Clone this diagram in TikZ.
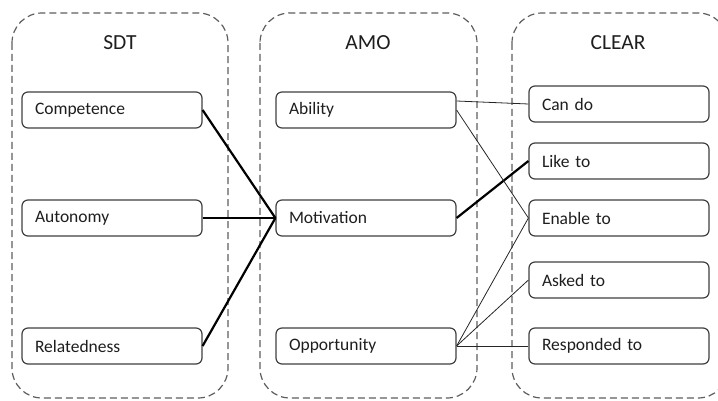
\documentclass[tikz,border=0pt]{standalone}
\usepackage{fontspec}
\setmainfont{Carlito}
\definecolor{boxline}{HTML}{404040}
\definecolor{groupline}{HTML}{5E5E5E}
\definecolor{inktext}{HTML}{1E1E1E}

\begin{document}
\begin{tikzpicture}[x=1pt,y=-1pt]
      \tikzstyle{group}=[draw=groupline, line width=1.2pt, dash pattern=on 7pt off 4pt, rounded corners=30pt]
      \tikzstyle{title}=[font=\fontsize{21.5}{24}\selectfont, text=inktext]
      \tikzstyle{item}=[draw=boxline, line width=1.2pt, rounded corners=6pt, fill=white,
        minimum height=36pt, text width=154pt, inner xsep=13pt, align=left,
        font=\fontsize{17.5}{20}\selectfont, text=inktext]
      \tikzstyle{strong}=[line width=2.2pt, black]
      \tikzstyle{weak}=[line width=0.8pt, black!85]
      \clip (0,0) rectangle (718,401);
      % the three groups
      \draw [group] (12,13) rectangle (228,398);
      \draw [group] (260,13) rectangle (477,398);
      \draw [group] (512,13) rectangle (728,398);
      \node [title] (sdt) at (120,43) {SDT};
      \node [title] (amo) at (368,43) {AMO};
      \node [title] (clear) at (618,43) {CLEAR};
      % SDT
      \node [item] (competence) at (112,110) {Competence};
      \node [item] (autonomy) at (112,218) {Autonomy};
      \node [item] (relatedness) at (112,346) {Relatedness};
      % AMO
      \node [item] (ability) at (366,110) {Ability};
      \node [item] (motivation) at (366,218) {Motivation};
      \node [item] (opportunity) at (366,346) {Opportunity};
      % CLEAR
      \node [item] (cando) at (619,104) {Can do};
      \node [item] (liketo) at (619,161) {Like to};
      \node [item] (enableto) at (619,218) {Enable to};
      \node [item] (askedto) at (619,280) {Asked to};
      \node [item] (respondedto) at (619,346) {Responded to};
      % links
      \draw [strong] (competence.east) -- (motivation.west);
      \draw [strong] (autonomy.east) -- (motivation.west);
      \draw [strong] (relatedness.east) -- (motivation.west);
      \draw [strong] (motivation.east) -- (liketo.west);
      \draw [weak] ([yshift=9pt]ability.east) -- (cando.west);
      \draw [weak] (ability.east) -- (enableto.west);
      \draw [weak] (opportunity.east) -- (enableto.west);
      \draw [weak] (opportunity.east) -- (askedto.west);
      \draw [weak] (opportunity.east) -- (respondedto.west);
    \end{tikzpicture}
\end{document}
